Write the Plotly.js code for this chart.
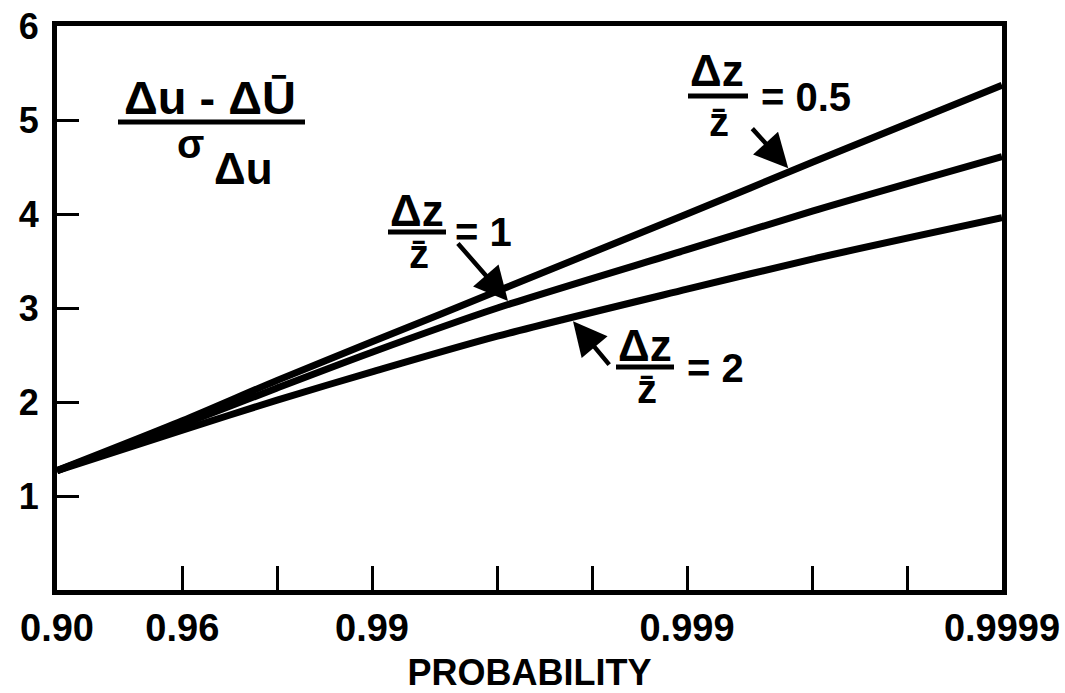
<!DOCTYPE html>
<html>
<head>
<meta charset="utf-8">
<script src="https://cdn.plot.ly/plotly-3.0.1.min.js"></script>
<style>html,body{margin:0;padding:0;background:#fff;}#chart{width:1065px;height:693px;}</style>
</head>
<body>
<div id="chart"></div>
<script>
// ---- data ----
var probabilities = [0.90, 0.96, 0.98, 0.99, 0.996, 0.999, 0.9996, 0.9999];
var ratioHalf = [1.27, 1.80, 2.23, 2.64, 3.18, 4.00, 4.55, 5.37];   // Δz/z̄ = 0.5
var ratioOne  = [1.27, 1.76, 2.15, 2.53, 3.00, 3.62, 4.03, 4.61];   // Δz/z̄ = 1
var ratioTwo  = [1.27, 1.70, 2.02, 2.32, 2.70, 3.20, 3.52, 3.96];   // Δz/z̄ = 2
var majorTickProbs = [0.90, 0.96, 0.99, 0.999, 0.9999];
var majorTickLabels = ["0.90", "0.96", "0.99", "0.999", "0.9999"];
var minorTickProbs = [0.98, 0.996, 0.998, 0.9996, 0.9998];
var yTickVals = [1, 2, 3, 4, 5, 6];

// probability axis: log scale of return period 1/(1-p)
function ret(p) { return 1 / (1 - p); }
var xs = probabilities.map(ret);

function lineTrace(vals) {
  return {x: xs, y: vals, type: 'scatter', mode: 'lines',
          line: {color: '#000', width: 7, shape: 'spline', smoothing: 0.8},
          hoverinfo: 'skip', showlegend: false};
}

// value of a series at log10 position u (for arrow tips)
function valAt(vals, u) {
  var us = xs.map(function (v) { return Math.log10(v); });
  for (var i = 0; i < us.length - 1; i++) {
    if (u >= us[i] && u <= us[i + 1]) {
      var t = (u - us[i]) / (us[i + 1] - us[i]);
      return vals[i] + t * (vals[i + 1] - vals[i]);
    }
  }
  return vals[vals.length - 1];
}

var L = 57, R = 1002, T = 26, B = 590;
function px(x) { return (x - L) / (R - L); }
function py(y) { return (B - y) / (B - T); }

var FONT = 'Liberation Sans, Arial, sans-serif';
function txt(x, y, s, size) {
  return {xref: 'paper', yref: 'paper', x: px(x), y: py(y), text: '<b>' + s + '</b>',
          showarrow: false, xanchor: 'center', yanchor: 'middle',
          font: {family: FONT, size: size, color: '#000'}};
}
function arrow(u, vals, ax, ay) {
  return {xref: 'x', yref: 'y', x: u, y: valAt(vals, u), ax: ax, ay: ay, text: '',
          showarrow: true, arrowhead: 2, arrowsize: 1.5, arrowwidth: 4.5, arrowcolor: '#000',
          standoff: 4};
}
function bar(x0, x1, y) {
  return {type: 'line', xref: 'paper', yref: 'paper', x0: px(x0), x1: px(x1), y0: py(y), y1: py(y),
          line: {color: '#000', width: 5}};
}

var annotations = [
  // y-quantity label
  txt(210, 98, 'Δu - ΔŪ', 47),
  txt(190, 144, 'σ', 40),
  txt(243, 168, 'Δu', 44),
  // Δz/z̄ = 0.5
  txt(717, 70, 'Δz', 44), txt(719, 122, 'z̄', 40), txt(806, 97, '= 0.5', 40),
  // Δz/z̄ = 1
  txt(417, 210, 'Δz', 44), txt(419, 254, 'z̄', 40), txt(483, 232, '= 1', 40),
  // Δz/z̄ = 2
  txt(645, 345, 'Δz', 44), txt(647, 389, 'z̄', 40), txt(715, 368, '= 2', 40),
  arrow(3.33, ratioHalf, -40, -44),
  arrow(2.44, ratioOne, -54, -62),
  arrow(2.63, ratioTwo, 40, 48)
];

var shapes = [bar(118, 305, 122), bar(688, 748, 96), bar(388, 446, 232), bar(616, 674, 367)];

var layout = {
  width: 1065, height: 693,
  margin: {l: L, r: 1065 - R, t: T, b: 693 - B},
  paper_bgcolor: '#fff', plot_bgcolor: '#fff',
  showlegend: false,
  xaxis: {
    type: 'log', range: [1, 4],
    tickmode: 'array', tickvals: majorTickProbs.map(ret), ticktext: majorTickLabels,
    ticks: 'inside', ticklen: 24, tickwidth: 3, tickcolor: '#000',
    minor: {tickmode: 'array', tickvals: minorTickProbs.map(ret), ticks: 'inside', ticklen: 24, tickwidth: 3, tickcolor: '#000', showgrid: false},
    showline: true, linecolor: '#000', linewidth: 5, mirror: true,
    showgrid: false, zeroline: false,
    ticklabelstandoff: 0,
    tickfont: {family: FONT, size: 38, color: '#000', weight: 'bold'},
    title: {text: '<b>PROBABILITY</b>', standoff: 24, font: {family: FONT, size: 36, color: '#000'}}
  },
  yaxis: {
    range: [0, 6],
    tickmode: 'array', tickvals: yTickVals, ticktext: yTickVals.map(String),
    ticks: 'inside', ticklen: 22, tickwidth: 3, tickcolor: '#000',
    showline: true, linecolor: '#000', linewidth: 5, mirror: true,
    showgrid: false, zeroline: false,
    ticklabelstandoff: 6,
    tickfont: {family: FONT, size: 36, color: '#000', weight: 'bold'}
  },
  annotations: annotations,
  shapes: shapes
};

Plotly.newPlot('chart', [lineTrace(ratioHalf), lineTrace(ratioOne), lineTrace(ratioTwo)], layout,
               {displayModeBar: false, staticPlot: true});
</script>
</body>
</html>
